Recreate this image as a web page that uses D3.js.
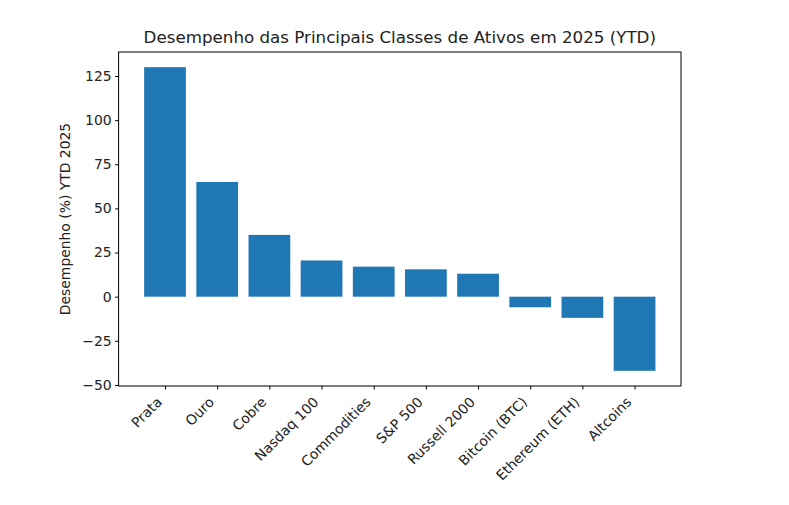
<!DOCTYPE html>
<html>
<head>
<meta charset="utf-8">
<script src="https://cdn.jsdelivr.net/npm/d3@7"></script>
<style>
  body { margin: 0; background: #fff; }
  text { font-family: "DejaVu Sans", sans-serif; fill: #222; }
</style>
</head>
<body>
<svg id="chart"></svg>
<script>
const categories = ["Prata", "Ouro", "Cobre", "Nasdaq 100", "Commodities", "S&P 500", "Russell 2000", "Bitcoin (BTC)", "Ethereum (ETH)", "Altcoins"];
const values = [130, 65, 35, 20.5, 17, 15.5, 13, -6, -12, -42];
const yTicks = [-50, -25, 0, 25, 50, 75, 100, 125];

const width = 789, height = 505;
const margin = {left: 118.6, right: 108, top: 52, bottom: 119};

const svg = d3.select("#chart")
              .attr("width", width)
              .attr("height", height);

// matplotlib style limits: bars at integer positions, width 0.8, 5% margins
const n = categories.length;
const xSpan = (n - 1) + 0.8;
const x = d3.scaleLinear()
    .domain([-0.4 - 0.05 * xSpan, n - 1 + 0.4 + 0.05 * xSpan])
    .range([margin.left, width - margin.right]);

const yMin = d3.min(values), yMax = d3.max(values);
const yPad = 0.05 * (yMax - yMin);
const y = d3.scaleLinear()
    .domain([yMin - yPad, yMax + yPad])
    .range([height - margin.bottom, margin.top]);

svg.append("g")
   .selectAll("rect")
   .data(values)
   .enter()
   .append("rect")
   .attr("x", (d, i) => x(i - 0.4))
   .attr("width", x(0.8) - x(0))
   .attr("y", d => y(Math.max(0, d)))
   .attr("height", d => Math.abs(y(d) - y(0)))
   .attr("fill", "#1f77b4");

// eixo y
const yAxis = svg.append("g")
   .attr("transform", `translate(${margin.left},0)`)
   .call(d3.axisLeft(y).tickValues(yTicks).tickSize(3.5).tickPadding(3.5)
           .tickFormat(d => d < 0 ? "\u2212" + Math.abs(d) : d));
yAxis.select(".domain").remove();
yAxis.selectAll("text").attr("font-size", 13.9).style("font-family", "DejaVu Sans");
yAxis.selectAll("line").attr("stroke", "#000");

// eixo x
const xAxis = svg.append("g")
   .attr("transform", `translate(0,${height - margin.bottom})`)
   .call(d3.axisBottom(x).tickValues(d3.range(n)).tickSize(3.5).tickFormat(""));
xAxis.select(".domain").remove();
xAxis.selectAll("line").attr("stroke", "#000");

svg.append("g")
   .selectAll("text")
   .data(categories)
   .enter()
   .append("text")
   .attr("transform", (d, i) => `translate(${x(i) - 9},${height - margin.bottom + 10}) rotate(-45)`)
   .attr("text-anchor", "end")
   .attr("dy", "0.7em")
   .attr("font-size", 13.9)
   .text(d => d);

// moldura
svg.append("rect")
   .attr("x", margin.left)
   .attr("y", margin.top)
   .attr("width", width - margin.right - margin.left)
   .attr("height", height - margin.bottom - margin.top)
   .attr("fill", "none")
   .attr("stroke", "#000")
   .attr("stroke-width", 1);

svg.append("text")
   .attr("x", (margin.left + width - margin.right) / 2)
   .attr("y", margin.top - 9)
   .attr("text-anchor", "middle")
   .attr("font-size", 16.7)
   .text("Desempenho das Principais Classes de Ativos em 2025 (YTD)");

svg.append("text")
   .attr("transform", `translate(70,${(margin.top + height - margin.bottom) / 2}) rotate(-90)`)
   .attr("text-anchor", "middle")
   .attr("font-size", 13.9)
   .text("Desempenho (%) YTD 2025");
</script>
</body>
</html>
